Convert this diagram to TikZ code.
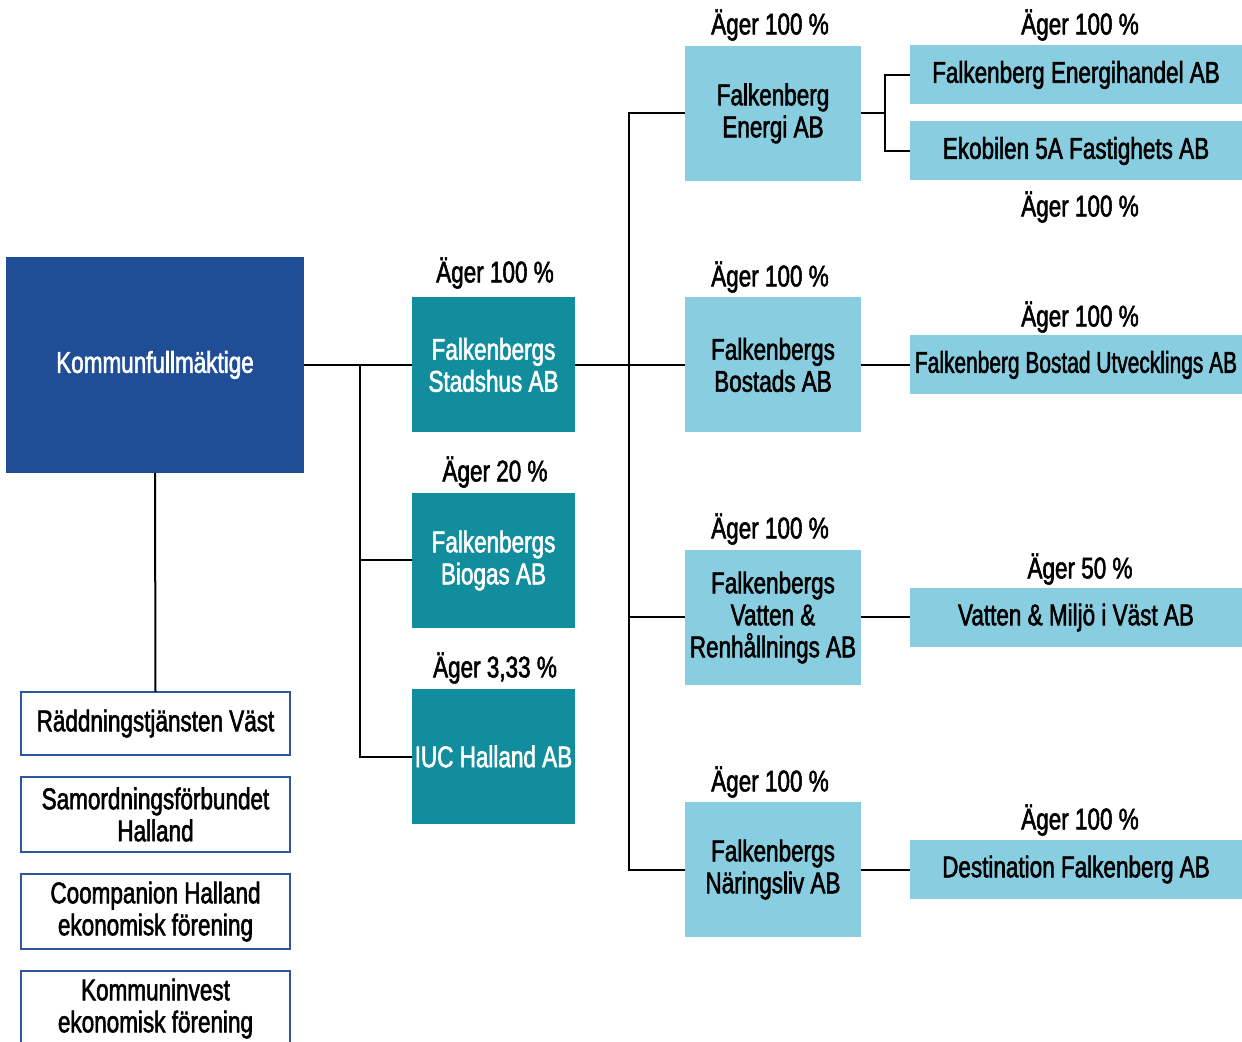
\documentclass[tikz,border=0pt]{standalone}
\usepackage{fontspec}
\setmainfont{Liberation Sans}[FakeStretch=0.75, FakeBold=1.8]
\usepackage{graphicx}
\usepackage{tikz}
\definecolor{kfblue}{HTML}{1F4E96}
\definecolor{teal}{HTML}{118D9E}
\definecolor{ljusbla}{HTML}{88CDE0}
\definecolor{ramblue}{HTML}{2E56A0}
\tikzset{
  box/.style = {inner sep=0pt, outer sep=0pt, align=center, font=\fontsize{15}{16}\selectfont},
  kf/.style = {box, fill=kfblue, text=white, minimum width=149pt, minimum height=108pt},
  bolag/.style = {box, fill=teal, text=white, minimum width=81.5pt, minimum height=67.5pt},
  dotter/.style = {box, fill=ljusbla, minimum width=88pt, minimum height=67.5pt},
  sub/.style = {box, fill=ljusbla, minimum width=166pt, minimum height=29.5pt},
  forb/.style = {box, draw=ramblue, line width=1pt, fill=white, minimum width=134.5pt},
  agar/.style = {inner sep=0pt, font=\fontsize{15}{16}\selectfont},
  line/.style = {line width=1pt}
}
\begin{document}
\begin{tikzpicture}[x=0.5pt, y=-0.5pt]
	\useasboundingbox (0,0) rectangle (1242,1042);
	\clip (0,0) rectangle (1242,1042);
	
	% kommunen
	\node[kf] (kf) at (155,365) {Kommunfullmäktige};
	\node[forb, minimum height=31.5pt] (radd) at (155.5,723.5) {Räddningstjänsten Väst};
	\node[forb, minimum height=37.5pt] (samo) at (155.5,814.5) {Samordningsförbundet\\Halland};
	\node[forb, minimum height=37.5pt] (coop) at (155.5,911.5) {Coompanion Halland\\ekonomisk förening};
	\node[forb, minimum height=37.5pt] (kinv) at (155.5,1008.5) {Kommuninvest\\ekonomisk förening};
	
	% bolag
	\node[bolag] (stad) at (493.5,365) {Falkenbergs\\Stadshus AB};
	\node[bolag] (bio) at (493.5,560.5) {Falkenbergs\\Biogas AB};
	\node[bolag] (iuc) at (493.5,756.5) {IUC Halland AB};
	\node[agar] at (495,273) {Äger 100 \%};
	\node[agar] at (495,472) {Äger 20 \%};
	\node[agar] at (495,668) {Äger 3,33 \%};
	
	% dotterbolag
	\node[dotter] (energi) at (773,113.5) {Falkenberg\\Energi AB};
	\node[dotter] (bostad) at (773,365) {Falkenbergs\\Bostads AB};
	\node[dotter] (vatten) at (773,617.5) {Falkenbergs\\Vatten \&\\Renhållnings AB};
	\node[dotter] (naring) at (773,869.5) {Falkenbergs\\Näringsliv AB};
	\node[agar] at (770,25) {Äger 100 \%};
	\node[agar] at (770,277) {Äger 100 \%};
	\node[agar] at (770,529) {Äger 100 \%};
	\node[agar] at (770,782) {Äger 100 \%};
	
	\node[sub] (handel) at (1076,75) {Falkenberg Energihandel AB};
	\node[sub] (ekob) at (1076,151) {Ekobilen 5A Fastighets AB};
	\node[sub] (utv) at (1076,365) {\scalebox{0.93}[1]{Falkenberg Bostad Utvecklings AB}};
	\node[sub] (vmv) at (1076,617.5) {Vatten \& Miljö i Väst AB};
	\node[sub] (dest) at (1076,869.5) {Destination Falkenberg AB};
	\node[agar] at (1080,25) {Äger 100 \%};
	\node[agar] at (1080,207) {Äger 100 \%};
	\node[agar] at (1080,317) {Äger 100 \%};
	\node[agar] at (1080,569) {Äger 50 \%};
	\node[agar] at (1080,820) {Äger 100 \%};
	
	% linjer
	\coordinate (j1) at (360,365);
	\coordinate (j2) at (629,365);
	\coordinate (j3) at (885,113.5);
	\draw[line] (kf.south) -- (radd.north);
	\draw[line] (kf.east) -- (stad.west);
	\draw[line] (j1) |- (bio.west);
	\draw[line] (j1) |- (iuc.west);
	\draw[line] (stad.east) -- (bostad.west);
	\draw[line] (j2) |- (energi.west);
	\draw[line] (j2) |- (vatten.west);
	\draw[line] (j2) |- (naring.west);
	\draw[line] (energi.east) -- (j3);
	\draw[line] (j3) |- (handel.west);
	\draw[line] (j3) |- (ekob.west);
	\draw[line] (bostad.east) -- (utv.west);
	\draw[line] (vatten.east) -- (vmv.west);
	\draw[line] (naring.east) -- (dest.west);
\end{tikzpicture}
\end{document}
